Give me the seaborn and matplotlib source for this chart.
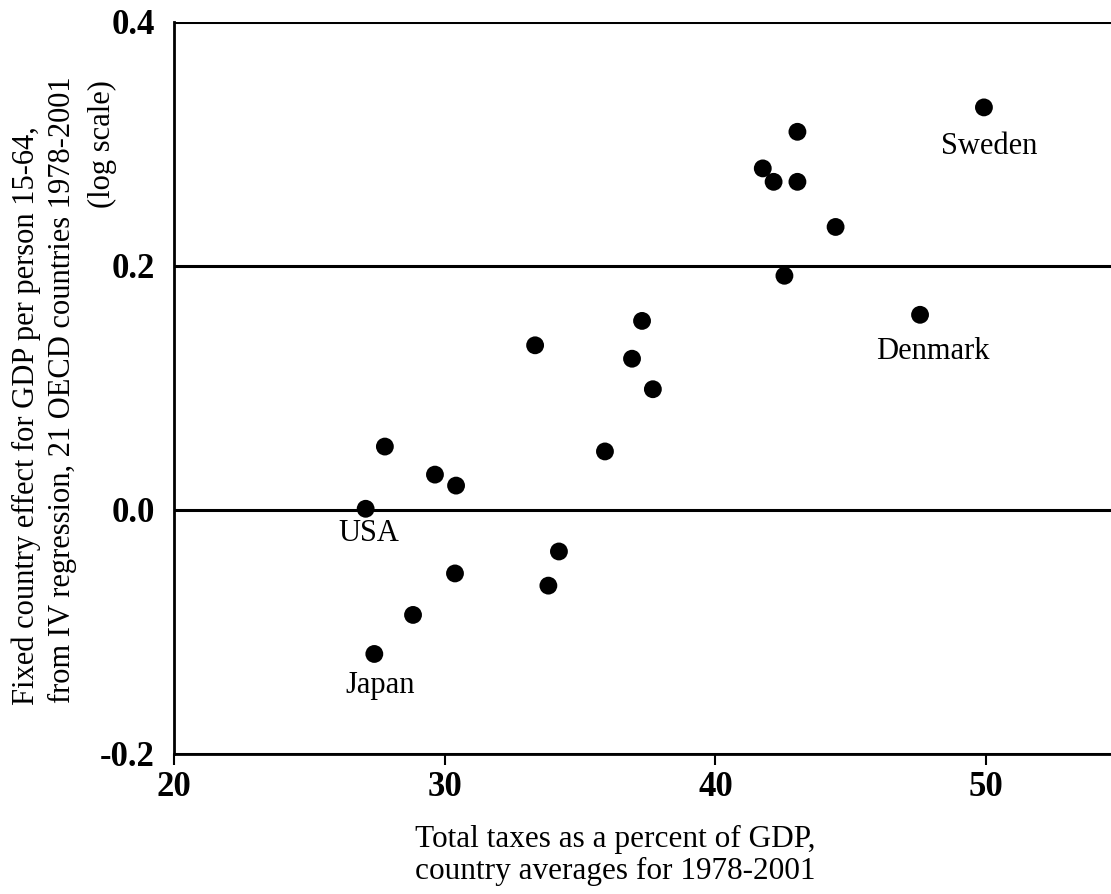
import matplotlib
matplotlib.use("Agg")
import matplotlib.pyplot as plt
import seaborn as sns
import pandas as pd

# ---- data ----
tax = [49.92, 43.03, 41.75, 42.15, 43.03, 44.44, 42.55, 47.56, 37.29, 33.34,
       36.92, 37.69, 27.79, 35.92, 29.64, 30.42, 27.08, 34.22, 30.38, 33.83,
       28.83, 27.40]
effect = [0.330, 0.310, 0.280, 0.269, 0.269, 0.232, 0.192, 0.160, 0.155, 0.135,
          0.124, 0.099, 0.052, 0.048, 0.029, 0.020, 0.001, -0.034, -0.052, -0.062,
          -0.086, -0.118]
country = ["Sweden", "", "", "", "", "", "", "Denmark", "", "",
           "", "", "", "", "", "", "USA", "", "", "",
           "", "Japan"]
x_ticks = [20, 30, 40, 50]
y_ticks = [-0.2, 0.0, 0.2, 0.4]
y_tick_labels = ["-0.2", "0.0", "0.2", "0.4"]
# label offsets (pixels) of the country names relative to their points
label_offsets = {"Sweden": (5, -39), "Denmark": (13, -37), "USA": (3, -25), "Japan": (6, -32)}

df = pd.DataFrame({"tax": tax, "effect": effect, "country": country})

sns.set_theme(style="white")
plt.rcParams["font.family"] = ["Liberation Serif", "DejaVu Serif"]
plt.rcParams["text.color"] = "black"
plt.rcParams["xtick.color"] = "black"
plt.rcParams["ytick.color"] = "black"
plt.rcParams["axes.labelcolor"] = "black"

fig = plt.figure(figsize=(11.11, 8.94), dpi=100)
ax = fig.add_axes([174 / 1111, 1 - 754 / 894, 1 - 174 / 1111, (754 - 22) / 894])

sns.scatterplot(data=df, x="tax", y="effect", color="black", s=165,
                edgecolor="none", ax=ax, zorder=3, legend=False)

ax.set_xlim(20, 20 + (1111 - 174) / 27.07)
ax.set_ylim(-0.2, 0.4)
ax.set_xticks(x_ticks)
ax.set_xticklabels([str(t) for t in x_ticks], fontsize=25, fontweight="bold")
ax.set_yticks(y_ticks)
ax.set_yticklabels(y_tick_labels, fontsize=25, fontweight="bold")
ax.tick_params(axis="x", direction="out", length=8, width=1.5, color="black", pad=4,
               bottom=True)
ax.tick_params(axis="y", length=0, pad=14)

for y in y_ticks:
    ax.axhline(y, color="black", lw=2.2, zorder=1)

for s in ["top", "right"]:
    ax.spines[s].set_visible(False)
for s in ["left", "bottom"]:
    ax.spines[s].set_color("black")
    ax.spines[s].set_linewidth(2.0)

ax.set_xlabel("")
ax.set_ylabel("")

for _, r in df.iterrows():
    if r["country"]:
        dx, dy = label_offsets[r["country"]]
        ax.annotate(r["country"], (r["tax"], r["effect"]), xytext=(dx, dy),
                    textcoords="offset pixels", ha="center", va="center",
                    fontsize=22, color="black")

# axis titles
fig.text(415 / 1111, 1 - 847 / 894, "Total taxes as a percent of GDP,",
         ha="left", va="baseline", fontsize=22.5)
fig.text(415 / 1111, 1 - 879 / 894, "country averages for 1978-2001",
         ha="left", va="baseline", fontsize=22.5)
fig.text(26 / 1111, 1 - 705 / 894, "Fixed country effect for GDP per person 15-64,",
         rotation=90, ha="center", va="bottom", fontsize=22)
fig.text(62 / 1111, 1 - 703 / 894, "from IV regression, 21 OECD countries 1978-2001",
         rotation=90, ha="center", va="bottom", fontsize=22)
fig.text(102 / 1111, 1 - 144 / 894, "(log scale)",
         rotation=90, ha="center", va="center", fontsize=22)

fig.savefig("out.png", dpi=100)
